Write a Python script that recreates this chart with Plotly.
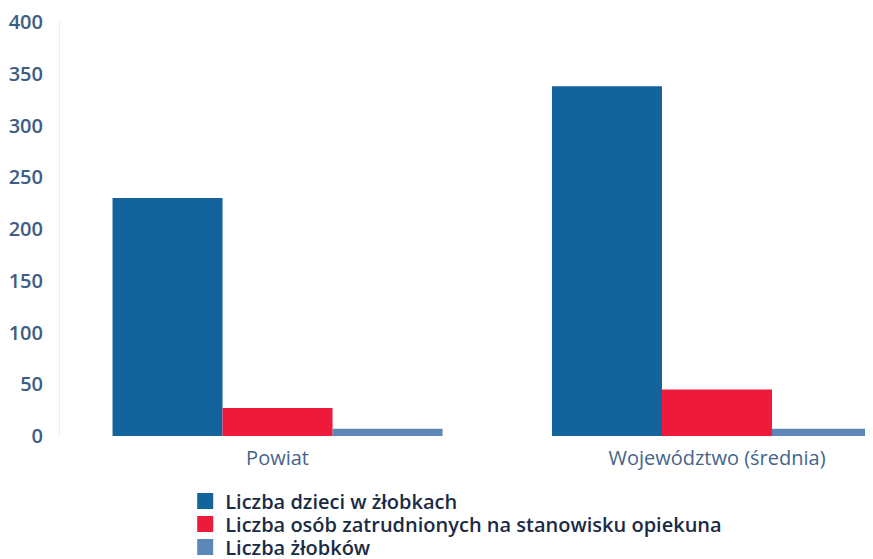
import plotly.graph_objects as go

categories = ["Powiat", "Województwo (średnia)"]
series_names = [
    "Liczba dzieci w żłobkach",
    "Liczba osób zatrudnionych na stanowisku opiekuna",
    "Liczba żłobków",
]
dzieci = [230, 338]
opiekunowie = [27, 45]
zlobki = [7, 7]
y_ticks = [0, 50, 100, 150, 200, 250, 300, 350, 400]

colors = ["#13639d", "#ee1a3c", "#5e86b6"]
legend_ids = ["legend", "legend2", "legend3"]
legend_rows_y = [-0.157, -0.2126, -0.268]

fig = go.Figure()
for name, vals, col in zip(series_names, [dzieci, opiekunowie, zlobki], colors):
    fig.add_trace(go.Bar(x=categories, y=vals, name=name, marker_color=col,
                         marker_line_width=0, showlegend=False, legendgroup=name))

# legend entries (larger square swatches, one legend per row)
for name, col, lid in zip(series_names, colors, legend_ids):
    fig.add_trace(go.Scatter(x=[None], y=[None], mode="markers", name=name,
                             marker=dict(symbol="square", size=16, color=col),
                             legend=lid, legendgroup=name, hoverinfo="skip"))

legend_font = dict(size=20, color="#1c2b45", weight=600)
legend_common = dict(x=0.154, xanchor="left", yanchor="middle",
                     orientation="v", font=legend_font, itemwidth=30,
                     bgcolor="rgba(0,0,0,0)")

# the page body adds an 8px offset, figure size/margins compensate for it
fig.update_layout(
    width=865, height=551,
    barmode="group", bargap=0.249, bargroupgap=0,
    paper_bgcolor="white", plot_bgcolor="white",
    margin=dict(l=52, r=0, t=14, b=123, autoexpand=False),
    font=dict(family="Open Sans, Noto Sans, sans-serif", color="#3b5878"),
    showlegend=True,
    legend=dict(y=legend_rows_y[0], **legend_common),
    legend2=dict(y=legend_rows_y[1], **legend_common),
    legend3=dict(y=legend_rows_y[2], **legend_common),
)
fig.update_xaxes(range=[-0.495, 1.355], showgrid=False, showline=False,
                 ticks="", ticklabelstandoff=8,
                 tickfont=dict(size=20, color="#45648c"))
fig.update_yaxes(range=[0, 400], tickvals=y_ticks, showgrid=False,
                 zeroline=False, showline=True, linecolor="#ececec", linewidth=1,
                 ticks="", ticklabelstandoff=12,
                 tickfont=dict(size=20, color="#3d5d84", weight=600))

fig.write_html("out.html")
